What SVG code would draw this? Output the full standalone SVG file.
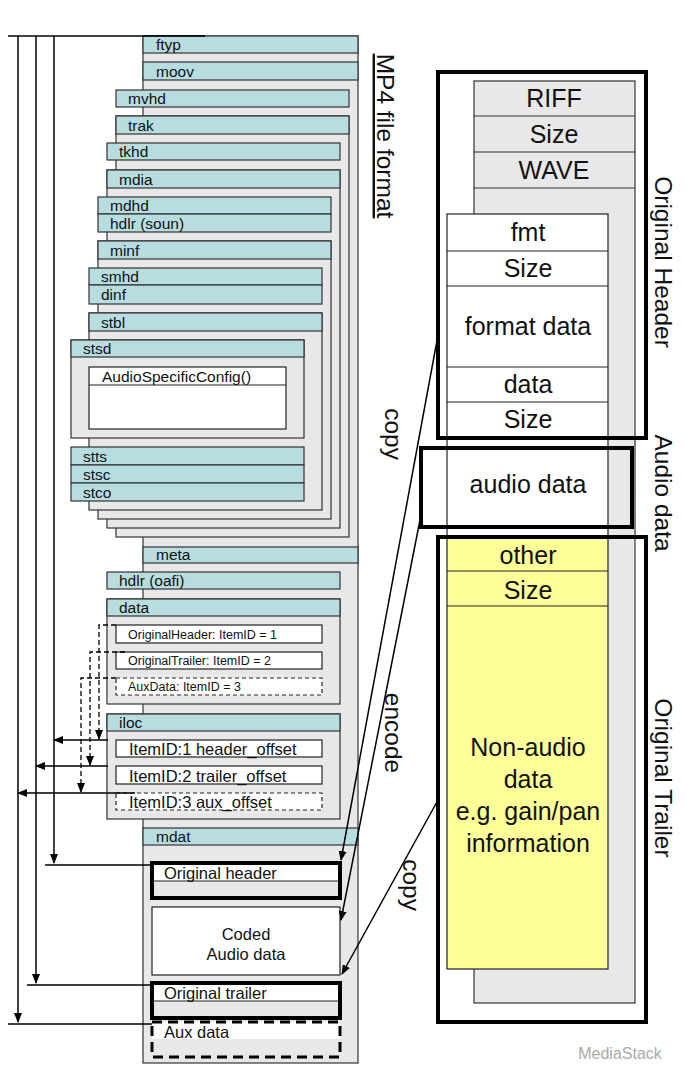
<svg xmlns="http://www.w3.org/2000/svg" width="687" height="1082" viewBox="0 0 687 1082">
<style>
text{font-family:"Liberation Sans",Arial,sans-serif;fill:#111}
.bar{fill:#b7dde1;stroke:#333;stroke-width:1.2}
.box{fill:#e8e8e8;stroke:#333;stroke-width:1.2}
.wh{fill:#fff;stroke:#222;stroke-width:1.2}
.yl{fill:#ffff99;stroke:#222;stroke-width:1.2}
.lb{font-size:15.5px}
.sm{font-size:12.5px}
.md{font-size:16.5px}
.bg{font-size:25px;text-anchor:middle}
.thick{fill:none;stroke:#000;stroke-width:4}
.ln{fill:none;stroke:#000;stroke-width:1.5}
.dl{fill:none;stroke:#000;stroke-width:1.3;stroke-dasharray:5,3}
.vt{font-size:24.5px;text-anchor:middle}
</style>
<defs>
<marker id="ah" markerWidth="10" markerHeight="10" refX="9" refY="5" orient="auto" markerUnits="userSpaceOnUse"><path d="M0,1 L10,5 L0,9 Z" fill="#000"/></marker>
</defs>
<rect width="687" height="1082" fill="#fff"/>

<g id="mp4">
<rect class="box" x="143" y="36" width="215" height="1027"/>
<rect class="bar" x="143" y="36" width="215" height="17"/><text class="lb" x="156" y="50">ftyp</text>
<rect class="bar" x="143" y="62" width="215" height="18"/><text class="lb" x="156" y="77">moov</text>
<rect class="bar" x="116" y="90" width="233" height="17"/><text class="lb" x="128" y="104">mvhd</text>
<rect class="box" x="116" y="116" width="233" height="421"/>
<rect class="bar" x="116" y="116" width="233" height="18"/><text class="lb" x="128" y="131">trak</text>
<rect class="bar" x="107" y="143" width="233" height="17"/><text class="lb" x="119" y="157">tkhd</text>
<rect class="box" x="107" y="170" width="233" height="358"/>
<rect class="bar" x="107" y="170" width="233" height="18"/><text class="lb" x="119" y="185">mdia</text>
<rect class="bar" x="98" y="197" width="233" height="17"/><text class="lb" x="110" y="211">mdhd</text>
<rect class="bar" x="98" y="214" width="233" height="18"/><text class="lb" x="110" y="229">hdlr (soun)</text>
<rect class="box" x="98" y="241" width="233" height="278"/>
<rect class="bar" x="98" y="241" width="233" height="18"/><text class="lb" x="110" y="256">minf</text>
<rect class="bar" x="89" y="268" width="233" height="17"/><text class="lb" x="101" y="282">smhd</text>
<rect class="bar" x="89" y="285" width="233" height="19"/><text class="lb" x="101" y="300">dinf</text>
<rect class="box" x="89" y="313" width="233" height="197"/>
<rect class="bar" x="89" y="313" width="233" height="18"/><text class="lb" x="101" y="328">stbl</text>
<rect class="box" x="71" y="340" width="233" height="98"/>
<rect class="bar" x="71" y="340" width="233" height="17"/><text class="lb" x="83" y="354">stsd</text>
<rect class="wh" x="89" y="367" width="197" height="62"/>
<line x1="89" y1="385" x2="286" y2="385" stroke="#222" stroke-width="1.2"/>
<text class="lb" x="102" y="382">AudioSpecificConfig()</text>
<rect class="bar" x="71" y="447" width="233" height="18"/><text class="lb" x="83" y="462">stts</text>
<rect class="bar" x="71" y="465" width="233" height="18"/><text class="lb" x="83" y="480">stsc</text>
<rect class="bar" x="71" y="483" width="233" height="18"/><text class="lb" x="83" y="498">stco</text>

<rect class="bar" x="143" y="547" width="215" height="16"/><text class="lb" x="156" y="560">meta</text>
<rect class="bar" x="107" y="572" width="233" height="17"/><text class="lb" x="119" y="586">hdlr (oafi)</text>
<rect class="box" x="107" y="599" width="233" height="105"/>
<rect class="bar" x="107" y="599" width="233" height="17"/><text class="lb" x="119" y="613">data</text>
<rect class="wh" x="116" y="625" width="206" height="18"/><text class="sm" x="128" y="639">OriginalHeader: ItemID = 1</text>
<rect class="wh" x="116" y="652" width="206" height="17"/><text class="sm" x="128" y="665">OriginalTrailer: ItemID = 2</text>
<rect class="wh" x="116" y="678" width="206" height="17" stroke-dasharray="4,3"/><text class="sm" x="128" y="691">AuxData: ItemID = 3</text>
<rect class="box" x="107" y="714" width="233" height="105"/>
<rect class="bar" x="107" y="714" width="233" height="17"/><text class="lb" x="119" y="728">iloc</text>
<rect class="wh" x="116" y="740" width="206" height="17"/><text class="md" x="129" y="755">ItemID:1 header_offset</text>
<rect class="wh" x="116" y="766" width="206" height="18"/><text class="md" x="129" y="782">ItemID:2 trailer_offset</text>
<rect class="wh" x="116" y="793" width="206" height="17" stroke-dasharray="4,3"/><text class="md" x="129" y="808">ItemID:3 aux_offset</text>

<rect class="bar" x="143" y="828" width="215" height="17"/><text class="lb" x="156" y="842">mdat</text>
<rect x="152" y="863" width="188" height="18" fill="#fff"/>
<line x1="152" y1="881" x2="340" y2="881" stroke="#222" stroke-width="1"/>
<rect class="thick" x="152" y="863" width="188" height="35"/>
<text class="md" x="164" y="879">Original header</text>
<rect class="wh" x="152" y="907" width="188" height="68"/>
<text class="md" x="246" y="940" text-anchor="middle">Coded</text>
<text class="md" x="246" y="960" text-anchor="middle">Audio data</text>
<rect x="152" y="983" width="188" height="18" fill="#fff"/>
<line x1="152" y1="1001" x2="340" y2="1001" stroke="#222" stroke-width="1"/>
<rect class="thick" x="152" y="983" width="188" height="35"/>
<text class="md" x="164" y="999">Original trailer</text>
<rect x="152" y="1022" width="188" height="17" fill="#fff"/>
<rect x="152" y="1022" width="188" height="35" fill="none" stroke="#000" stroke-width="3" stroke-dasharray="10,6"/>
<text class="md" x="164" y="1038">Aux data</text>
</g>

<g id="wav">
<rect class="box" x="474" y="81" width="161" height="922"/>
<line x1="474" y1="116" x2="635" y2="116" stroke="#333"/>
<line x1="474" y1="152" x2="635" y2="152" stroke="#333"/>
<line x1="474" y1="188" x2="635" y2="188" stroke="#333"/>
<text class="bg" x="554" y="107">RIFF</text>
<text class="bg" x="554" y="143">Size</text>
<text class="bg" x="554" y="179">WAVE</text>
<rect class="wh" x="447" y="214" width="161" height="324"/>
<line x1="447" y1="251" x2="608" y2="251" stroke="#222"/>
<line x1="447" y1="286" x2="608" y2="286" stroke="#222"/>
<line x1="447" y1="367" x2="608" y2="367" stroke="#222"/>
<line x1="447" y1="402" x2="608" y2="402" stroke="#222"/>
<text class="bg" x="528" y="241">fmt</text>
<text class="bg" x="528" y="277">Size</text>
<text class="bg" x="528" y="335">format data</text>
<text class="bg" x="528" y="393">data</text>
<text class="bg" x="528" y="428">Size</text>
<text class="bg" x="528" y="493">audio data</text>
<rect class="yl" x="447" y="538" width="161" height="431"/>
<line x1="447" y1="571" x2="608" y2="571" stroke="#222"/>
<line x1="447" y1="606" x2="608" y2="606" stroke="#222"/>
<text class="bg" x="528" y="564">other</text>
<text class="bg" x="528" y="599">Size</text>
<text class="bg" x="528" y="756">Non-audio</text>
<text class="bg" x="528" y="788">data</text>
<text class="bg" x="528" y="820">e.g. gain/pan</text>
<text class="bg" x="528" y="852">information</text>
<rect class="thick" x="438" y="72" width="208" height="366"/>
<rect class="thick" x="421" y="448" width="211" height="79"/>
<rect class="thick" x="438" y="537" width="208" height="485"/>
<text class="vt" transform="translate(655,262) rotate(90)">Original Header</text>
<text class="vt" transform="translate(655,493) rotate(90)">Audio data</text>
<text class="vt" transform="translate(655,778) rotate(90)">Original Trailer</text>
<text class="vt" transform="translate(377,136) rotate(90)" text-decoration="underline">MP4 file format</text>
</g>

<g id="connectors">
<polyline class="ln" points="8,36 205,36"/>
<polyline class="ln" points="18,36 18,1022" marker-end="url(#ah)"/>
<polyline class="ln" points="36,36 36,983" marker-end="url(#ah)"/>
<polyline class="ln" points="54,36 54,863" marker-end="url(#ah)"/>
<line class="ln" x1="45" y1="865" x2="152" y2="865"/>
<line class="ln" x1="27" y1="985" x2="152" y2="985"/>
<line class="ln" x1="8" y1="1024" x2="152" y2="1024"/>
<line class="ln" x1="108" y1="740" x2="54" y2="740" marker-end="url(#ah)"/>
<line class="ln" x1="108" y1="766" x2="36" y2="766" marker-end="url(#ah)"/>
<line class="ln" x1="135" y1="793" x2="18" y2="793" marker-end="url(#ah)"/>
<polyline class="dl" points="116,625 99,625 99,739" marker-end="url(#ah)"/>
<polyline class="dl" points="125,652 90,652 90,765" marker-end="url(#ah)"/>
<polyline class="dl" points="116,678 81,678 81,792" marker-end="url(#ah)"/>
<line class="ln" x1="438" y1="335" x2="341" y2="860" marker-end="url(#ah)"/>
<line class="ln" x1="421" y1="515" x2="341" y2="920" marker-end="url(#ah)"/>
<line class="ln" x1="438" y1="800" x2="342" y2="974" marker-end="url(#ah)"/>
<text class="vt" transform="translate(385,434) rotate(90)">copy</text>
<text class="vt" transform="translate(385,733) rotate(90)">encode</text>
<text class="vt" transform="translate(403,885) rotate(90)">copy</text>
</g>
<text x="620" y="1059" font-size="16" text-anchor="middle" style="fill:#aaa">MediaStack</text>
</svg>
